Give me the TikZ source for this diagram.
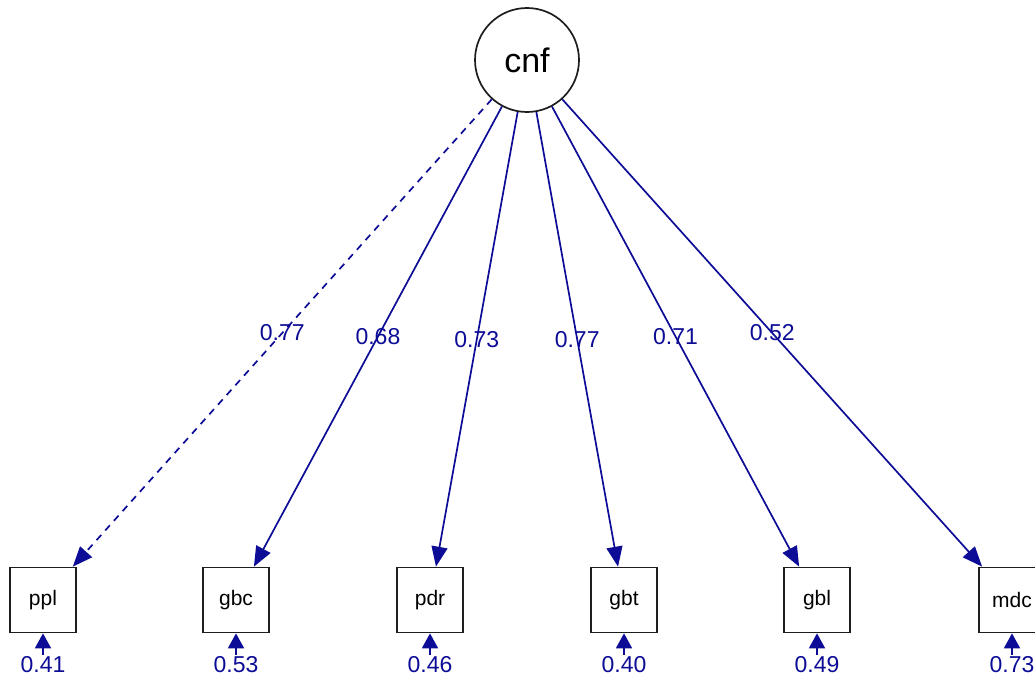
\documentclass[tikz,border=0pt]{standalone}
\usepackage{fontspec}
\setmainfont{Liberation Sans}
\usetikzlibrary{arrows.meta}
\definecolor{pathblue}{RGB}{12,12,150}
\definecolor{boxgray}{RGB}{30,30,30}
\tikzset{
  latent/.style={circle, draw=boxgray, line width=1.7pt, minimum size=104pt, inner sep=0pt, font=\fontsize{34}{34}\selectfont},
  manifest/.style={rectangle, draw=boxgray, line width=1.7pt, minimum width=66pt, minimum height=65pt, inner sep=0pt, font=\fontsize{21}{21}\selectfont},
  loading/.style={draw=pathblue, line width=1.7pt, -{Triangle[length=20pt,width=16pt]}},
  resid/.style={draw=pathblue, line width=1.7pt, -{Triangle[length=15pt,width=16pt]}},
  coef/.style={text=pathblue, inner sep=0pt, font=\fontsize{23}{23}\selectfont},
  reslab/.style={text=pathblue, inner sep=2pt, font=\fontsize{23}{23}\selectfont},
}
\begin{document}
\begin{tikzpicture}[x=1pt,y=-1pt]
  \useasboundingbox (0,0) rectangle (1035,677);
  \begin{scope}
    \clip (0,0) rectangle (1035,677);
    % latent factor
    \node[latent] (cnf) at (527,60) {cnf};
    % indicators
    \node[manifest] (ppl) at (43,600) {ppl};
    \node[manifest] (gbc) at (236,600) {gbc};
    \node[manifest] (pdr) at (430,600) {pdr};
    \node[manifest] (gbt) at (624,600) {gbt};
    \node[manifest] (gbl) at (817,600) {gbl};
    \node[manifest] (mdc) at (1012,600) {mdc};
    % loadings (first one fixed, drawn dashed)
    \draw[loading, dash pattern=on 7pt off 6pt] (cnf) -- node[coef, pos=0.5] {0.77} (ppl);
    \draw[loading] (cnf) -- node[coef, pos=0.5] {0.68} (gbc);
    \draw[loading] (cnf) -- node[coef, pos=0.5] {0.73} (pdr);
    \draw[loading] (cnf) -- node[coef, pos=0.5] {0.77} (gbt);
    \draw[loading] (cnf) -- node[coef, pos=0.5] {0.71} (gbl);
    \draw[loading] (cnf) -- node[coef, pos=0.5] {0.52} (mdc);
    % residual variances
    \node[reslab] (e1) at (43,665) {0.41};
    \node[reslab] (e2) at (236,665) {0.53};
    \node[reslab] (e3) at (430,665) {0.46};
    \node[reslab] (e4) at (624,665) {0.40};
    \node[reslab] (e5) at (817,665) {0.49};
    \node[reslab] (e6) at (1012,665) {0.73};
    \foreach \e/\v in {e1/ppl,e2/gbc,e3/pdr,e4/gbt,e5/gbl,e6/mdc}
      \draw[resid] (\e.north) -- (\v);
  \end{scope}
\end{tikzpicture}
\end{document}
